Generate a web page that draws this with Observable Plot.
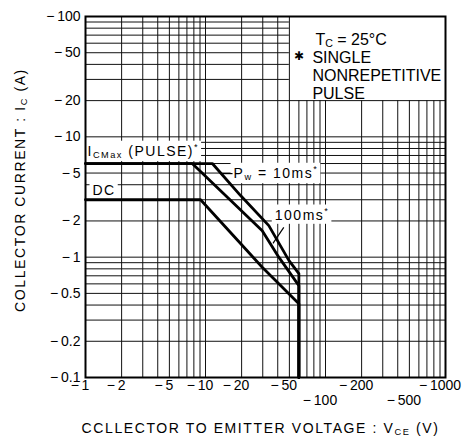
<!DOCTYPE html>
<html><head><meta charset="utf-8">
<script src="https://cdn.jsdelivr.net/npm/d3@7"></script>
<script src="https://cdn.jsdelivr.net/npm/@observablehq/plot@0.6"></script>
<style>body{margin:0;background:#fff}#chart svg{display:block}</style>
</head><body><div id="chart"></div>
<script>
// ---- tick labels ----
const xTicksRow1 = [1, 2, 5, 10, 20, 50, 200, 1000];
const xTicksRow2 = [100, 500];
const yTicks = [100, 50, 20, 10, 5, 2, 1, 0.5, 0.2, 0.1];
// ---- grid lines (1..9 per decade) ----
const gridX = [2,3,4,5,6,7,8,9,10,20,30,40,50,60,70,80,90,100,200,300,400,500,600,700,800,900];
const gridY = [0.2,0.3,0.4,0.5,0.6,0.7,0.8,0.9,1,2,3,4,5,6,7,8,9,10,20,30,40,50,60,70,80,90];
// legend box corner (grid blanked above/right of it)
const legendVce = 50, legendIc = 20;
// ---- SOA curves (VCE [V], IC [A]) ----
const pulse10Vce  = [1, 11.4, 19.6, 33.7, 49.5, 60, 60];
const pulse10Ic   = [6, 6, 3.25, 1.83, 0.94, 0.73, 0.1];
const pulse100Vce = [1, 7.75, 29.7, 40.8, 60, 60];
const pulse100Ic  = [6, 6, 1.66, 1.0, 0.58, 0.1];
const dcVce       = [1, 9.1, 29.7, 60, 60];
const dcIc        = [3, 3, 0.824, 0.41, 0.1];
// ---- annotation anchors ----
const icmaxLevel = 6, dcLevel = 3;
const leader10  = {x1: 13.5, y1: 4.95, x2: 16.8, y2: 4.95};
const leader100 = {x1: 36.5, y1: 1.3, x2: 44.9, y2: 1.77};

const curveRows = [
  ...pulse10Vce.map((v, i) => ({series: "10ms", vce: v, ic: pulse10Ic[i]})),
  ...pulse100Vce.map((v, i) => ({series: "100ms", vce: v, ic: pulse100Ic[i]})),
  ...dcVce.map((v, i) => ({series: "DC", vce: v, ic: dcIc[i]}))
];

const dash = "\u2212\u2009";
const ann = {fill: "black", textAnchor: "start", fontSize: 14};
const chart = Plot.plot({
  width: 462, height: 440,
  marginLeft: 85, marginRight: 17, marginTop: 16, marginBottom: 63,
  style: {fontFamily: "'Liberation Sans', Arial, Helvetica, sans-serif", background: "#fff", color: "#000"},
  x: {type: "log", domain: [1, 1000], axis: null},
  y: {type: "log", domain: [0.1, 100], axis: null},
  marks: [
    Plot.ruleX(gridX, {x: d => d, y1: 0.1, y2: d => d > legendVce ? legendIc : 100, stroke: "#111", strokeWidth: 1}),
    Plot.ruleY(gridY, {y: d => d, x1: 1, x2: d => d > legendIc ? legendVce : 1000, stroke: "#111", strokeWidth: 1}),
    // annotations (white box added behind them below)
    Plot.text(["I_{CMax}\u00a0(PULSE)^{*}"], {x: 1, y: icmaxLevel, dx: 2, dy: -12, ...ann}),
    Plot.text(["DC"], {x: 1, y: dcLevel, dx: 7, dy: -9, ...ann}),
    Plot.text(["P_{w} = 10ms^{*}"], {x: leader10.x2, y: leader10.y2, dx: 1, dy: 0, ...ann}),
    Plot.text(["100ms^{*}"], {x: leader100.x2, y: leader100.y2, dx: -9, dy: -12, ...ann}),
    Plot.link([leader10, leader100], {x1: "x1", y1: "y1", x2: "x2", y2: "y2", stroke: "#000", strokeWidth: 1.2}),
    Plot.line(curveRows, {x: "vce", y: "ic", z: "series", stroke: "#000", strokeWidth: 2.8}),
    Plot.frame({stroke: "#000", strokeWidth: 2}),
    // axis labels
    Plot.text(yTicks, {y: d => d, frameAnchor: "left", dx: -5, textAnchor: "end", text: d => dash + d, fontSize: 14}),
    Plot.text(xTicksRow1, {x: d => d, frameAnchor: "bottom", dy: 12, dx: -5.5, text: d => dash + d, fontSize: 14}),
    Plot.text(xTicksRow2, {x: d => d, frameAnchor: "bottom", dy: 27, dx: -5.5, text: d => dash + d, fontSize: 14}),
    Plot.text(["CCLLECTOR TO EMITTER VOLTAGE : V_{CE} (V)"], {frameAnchor: "bottom", dy: 55, dx: -5, fontSize: 14}),
    Plot.text(["COLLECTOR CURRENT : I_{C} (A)"], {frameAnchor: "left", textAnchor: "middle", dx: -65, dy: -7, rotate: -90, fontSize: 14}),
    // legend
    Plot.text(["T_{C} = 25\u00b0C"], {x: legendVce, frameAnchor: "top", dx: 26, dy: 17, textAnchor: "start", fontSize: 16}),
    Plot.text(["\u2731"], {x: legendVce, frameAnchor: "top", dx: 9.5, dy: 35, fontSize: 12}),
    Plot.text(["SINGLE"], {x: legendVce, frameAnchor: "top", dx: 23, dy: 35, textAnchor: "start", fontSize: 16}),
    Plot.text(["NONREPETITIVE"], {x: legendVce, frameAnchor: "top", dx: 23, dy: 53, textAnchor: "start", fontSize: 16}),
    Plot.text(["PULSE"], {x: legendVce, frameAnchor: "top", dx: 23, dy: 71, textAnchor: "start", fontSize: 16})
  ]
});
document.getElementById("chart").appendChild(chart);

// rich text: _{sub} and ^{sup}
const svgns = "http://www.w3.org/2000/svg";
const boxed = [];
chart.querySelectorAll("text").forEach(t => {
  const s = t.textContent;
  if (/^(CCLLECTOR|COLLECTOR)/.test(s)) t.setAttribute("letter-spacing", "1.6");
  if (/(PULSE\)|^DC$|ms)/.test(s)) { t.setAttribute("letter-spacing", "1.5"); boxed.push(t); }
  if (!/[_^]\{/.test(s)) return;
  const fs = parseFloat(getComputedStyle(t).fontSize) || 14;
  const parts = s.split(/([_^]\{[^}]*\})/);
  t.textContent = "";
  let shift = 0;
  for (const p of parts) {
    if (!p) continue;
    const ts = document.createElementNS(svgns, "tspan");
    const m = p.match(/^([_^])\{([^}]*)\}$/);
    let target = 0, txt = p;
    if (m) {
      txt = m[2];
      target = m[1] === "_" ? fs * 0.15 : -fs * 0.45;
      ts.setAttribute("font-size", (fs * 0.66).toFixed(1));
    }
    ts.setAttribute("dy", (target - shift).toFixed(2));
    shift = target;
    ts.textContent = txt;
    t.appendChild(ts);
  }
});
// white box behind annotation labels (erases the grid like the printed chart)
for (const t of boxed) {
  const b = t.getBBox();
  const r = document.createElementNS(svgns, "rect");
  r.setAttribute("x", b.x - 3); r.setAttribute("y", b.y - 1);
  r.setAttribute("width", b.width + 5); r.setAttribute("height", b.height + 2);
  r.setAttribute("fill", "white"); r.setAttribute("stroke", "none");
  if (t.getAttribute("transform")) r.setAttribute("transform", t.getAttribute("transform"));
  t.parentNode.insertBefore(r, t);
}
</script>
</body></html>
